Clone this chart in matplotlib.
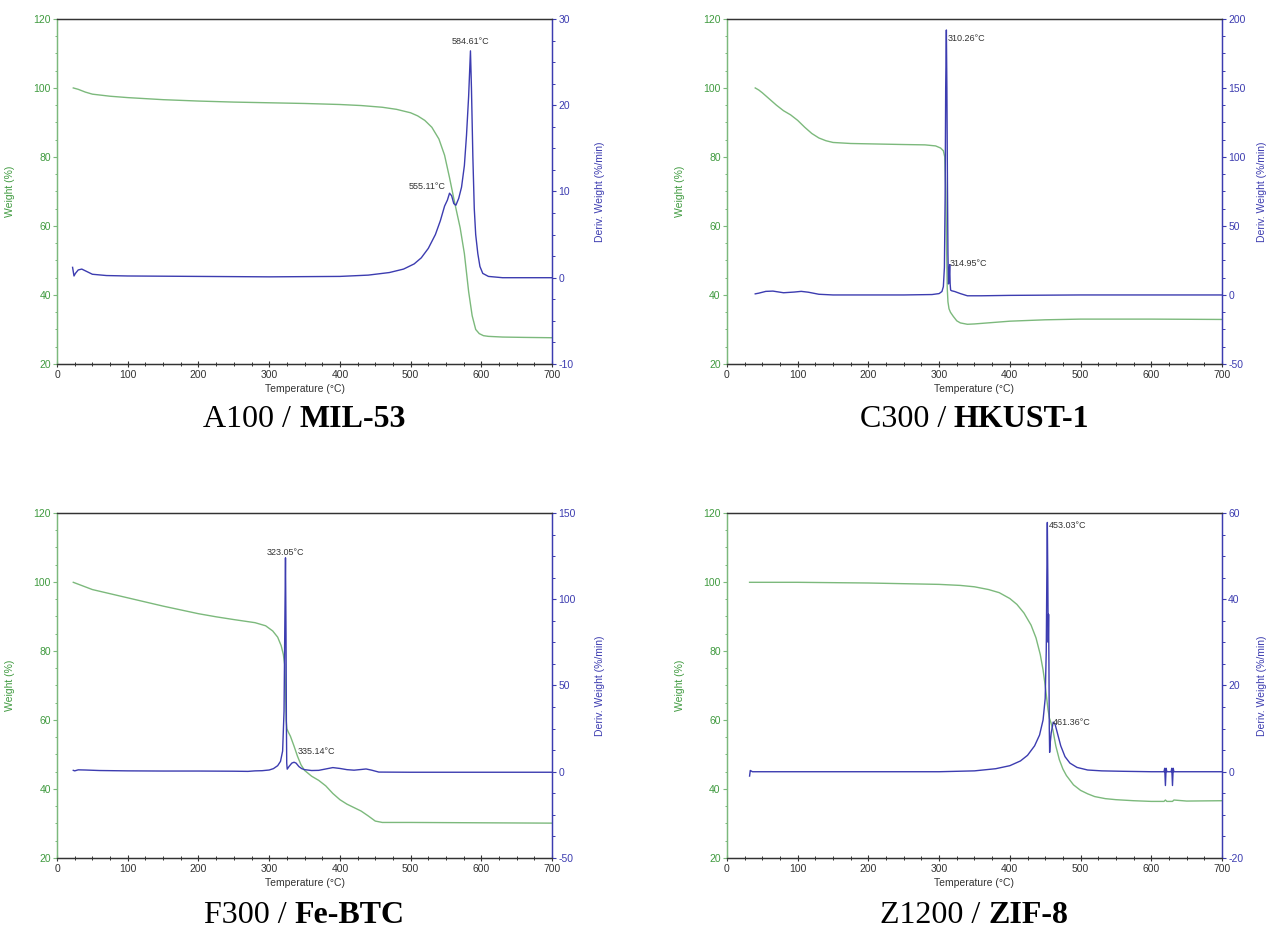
#!/usr/bin/env python3
"""Four TGA / DTG panels (weight % and derivative weight vs temperature)."""

import matplotlib
matplotlib.use("Agg")
import matplotlib.pyplot as plt
from matplotlib.ticker import MultipleLocator

GREEN_LINE = "#7cb97c"
GREEN_TXT = "#3f9a3f"
BLUE = "#3c3cb0"
DARK = "#333333"

# ---- A100 / MIL-53 ----
a_wt_t = [23, 30, 40, 50, 75, 100, 150, 200, 250, 300, 350, 400, 430, 460, 480, 500, 510, 520, 530, 540,
          548, 555, 562, 570, 576, 582, 587, 592, 597, 603, 610, 630, 660, 700]
a_wt_v = [100, 99.6, 98.8, 98.2, 97.6, 97.2, 96.6, 96.2, 95.9, 95.7, 95.5, 95.2, 94.9, 94.4, 93.8, 92.8,
          91.9, 90.6, 88.6, 85.2, 80.5, 74, 67, 59.5, 52, 41, 34, 30, 28.8, 28.2, 28, 27.8, 27.7, 27.6]
a_dw_t = [22, 24, 26, 30, 35, 40, 50, 70, 100, 200, 300, 400, 440, 470, 490, 505, 515, 525, 535, 542, 548,
          552, 555, 558, 561, 564, 568, 572, 576, 579, 582, 584.6, 586, 588, 590, 592, 595, 598, 602, 610,
          630, 700]
a_dw_v = [1.2, 0.2, 0.5, 0.9, 1.0, 0.8, 0.4, 0.25, 0.2, 0.15, 0.1, 0.15, 0.3, 0.6, 1.0, 1.6, 2.3, 3.4, 5.0,
          6.6, 8.3, 9.0, 9.8, 9.5, 8.6, 8.4, 9.2, 10.5, 13.0, 16.5, 21.0, 26.3, 22.0, 14.0, 8.0, 5.0, 2.8,
          1.3, 0.5, 0.15, 0.0, 0.0]

# ---- C300 / HKUST-1 ----
c_wt_t = [40, 45, 50, 60, 70, 80, 90, 100, 110, 120, 130, 140, 150, 175, 200, 250, 280, 295, 302, 306, 308,
          309.5, 310.5, 311.5, 312.5, 314, 316, 320, 325, 330, 340, 350, 375, 400, 450, 500, 600, 700]
c_wt_v = [100, 99.4, 98.6, 96.8, 95, 93.4, 92.2, 90.6, 88.6, 86.8, 85.5, 84.7, 84.2, 83.9, 83.8, 83.6, 83.5,
          83.2, 82.6, 81.8, 80, 70, 55, 42, 38, 36, 35, 33.8, 32.5, 31.9, 31.5, 31.6, 32, 32.4, 32.8, 33.0,
          33.0, 32.9]
c_dw_t = [40, 45, 55, 65, 80, 95, 105, 115, 130, 150, 200, 250, 290, 300, 304, 306, 307.5, 308.5, 309.3,
          310.26, 311, 311.8, 312.5, 313.2, 314, 314.95, 315.6, 316.3, 318, 322, 330, 340, 360, 400, 500,
          600, 700]
c_dw_v = [0.8, 1.3, 2.6, 2.8, 1.6, 2.1, 2.6, 2.0, 0.5, 0.0, 0.0, 0.0, 0.3, 1.0, 2.5, 6, 20, 70, 150, 192,
          150, 80, 30, 8, 10, 22, 8, 3.5, 3.0, 2.5, 1.0, -0.6, -0.6, -0.3, 0.0, 0.0, 0.0]

# ---- F300 / Fe-BTC ----
f_wt_t = [23, 50, 100, 150, 175, 200, 225, 250, 280, 295, 305, 312, 317, 320, 322, 323, 324, 325, 327, 330,
          335, 340, 345, 350, 360, 370, 380, 390, 400, 410, 420, 430, 440, 450, 460, 500, 600, 700]
f_wt_v = [99.9, 97.8, 95.4, 93.0, 91.9, 90.8, 89.9, 89.1, 88.2, 87.3, 85.8, 84, 81.5, 79, 76, 70, 60, 57.5,
          56.5, 55.3, 52.5, 49.5, 47, 45.4, 43.7, 42.5, 40.9, 38.7, 36.9, 35.6, 34.6, 33.6, 32.2, 30.7,
          30.3, 30.3, 30.2, 30.1]
f_dw_t = [23, 25, 30, 40, 60, 100, 150, 200, 250, 270, 280, 290, 300, 306, 312, 316, 319, 321, 322, 323.05,
          323.8, 324.3, 324.8, 325.5, 328, 332, 335.14, 338, 342, 346, 350, 360, 370, 380, 390, 400, 410,
          420, 430, 437, 445, 455, 500, 600, 700]
f_dw_v = [0.8, 0.5, 1.1, 1.0, 0.7, 0.5, 0.4, 0.4, 0.3, 0.2, 0.5, 0.6, 1.0, 1.8, 3.5, 6, 12, 35, 80, 124,
          80, 30, 5, 1.5, 3.0, 5.0, 5.5, 5.0, 3.0, 1.8, 1.2, 0.7, 0.8, 1.6, 2.4, 1.9, 1.2, 0.9, 1.3, 1.6,
          0.9, -0.2, -0.3, -0.3, -0.3]

# ---- Z1200 / ZIF-8 ----
z_wt_t = [32, 50, 100, 150, 200, 250, 300, 330, 350, 370, 385, 400, 410, 420, 430, 437, 443, 447, 450, 452,
          454, 456, 458, 461, 465, 470, 475, 480, 490, 500, 510, 520, 535, 550, 575, 600, 618, 620, 622,
          630, 632, 650, 700]
z_wt_v = [99.9, 99.9, 99.9, 99.8, 99.7, 99.5, 99.3, 99.0, 98.6, 97.8, 96.9, 95.2, 93.5, 91, 87.5, 83.8,
          79, 74.5, 70, 66.5, 63, 60.5, 59.3, 57, 52.5, 48.5, 45.8, 43.9, 41.2, 39.6, 38.6, 37.8, 37.2,
          36.9, 36.6, 36.4, 36.4, 36.8, 36.4, 36.4, 36.8, 36.5, 36.6]
z_dw_t = [32, 33, 34, 36, 50, 100, 200, 300, 350, 380, 400, 415, 425, 435, 442, 447, 450, 451.5, 452.3,
          453.03, 453.7, 454.3, 454.8, 455.3, 455.8, 456.3, 457, 458.5, 461.36, 464, 468, 472, 478, 485,
          495, 510, 530, 560, 600, 618, 619, 620, 621, 622, 628, 629, 630, 631, 632, 650, 700]
z_dw_v = [-1.0, 0.3, 0.2, 0.0, 0.0, 0.0, 0.0, 0.0, 0.2, 0.7, 1.4, 2.5, 3.8, 6.0, 8.5, 12, 17, 28, 45,
          57.8, 45, 30, 36.5, 25, 10, 4.5, 6.5, 9, 11.5, 11, 8.5, 6.0, 3.5, 2.0, 1.0, 0.4, 0.2, 0.1, 0.0,
          0.0, 0.8, -3.2, 0.8, 0.0, 0.0, 0.8, -3.2, 0.8, 0.0, 0.0, 0.0]

PANELS = [
    dict(name="A100 / ", bold="MIL-53", wt=(a_wt_t, a_wt_v), dw=(a_dw_t, a_dw_v),
         rlim=(-10, 30), rstep=10,
         notes=[(584.61, 27.4, "584.61°C", "center"), (549, 10.6, "555.11°C", "right")]),
    dict(name="C300 / ", bold="HKUST-1", wt=(c_wt_t, c_wt_v), dw=(c_dw_t, c_dw_v),
         rlim=(-50, 200), rstep=50,
         notes=[(312.5, 186, "310.26°C", "left"), (314.5, 23, "314.95°C", "left")]),
    dict(name="F300 / ", bold="Fe-BTC", wt=(f_wt_t, f_wt_v), dw=(f_dw_t, f_dw_v),
         rlim=(-50, 150), rstep=50,
         notes=[(323.05, 127, "323.05°C", "center"), (340, 11.5, "335.14°C", "left")]),
    dict(name="Z1200 / ", bold="ZIF-8", wt=(z_wt_t, z_wt_v), dw=(z_dw_t, z_dw_v),
         rlim=(-20, 60), rstep=20,
         notes=[(455, 57.0, "453.03°C", "left"), (460.5, 11.3, "461.36°C", "left")]),
]

# axes boxes in figure fractions, title baselines, right-label offsets
BOXES = [(0.0449, 0.6099), (0.5724, 0.6099), (0.0449, 0.0804), (0.5724, 0.0804)]
W, H = 0.3898, 0.3698
TITLE_Y = [0.5424, 0.5424, 0.0110, 0.0110]
RLABEL_X = [1.087, 1.070, 1.087, 1.070]

plt.rcParams["font.family"] = ["Liberation Sans", "DejaVu Sans"]
plt.rcParams["axes.unicode_minus"] = False
fig = plt.figure(figsize=(12.7, 9.33), dpi=100)


def draw_panel(ax, p, rlabel_x):
    ax2 = ax.twinx()
    ax.plot(*p["wt"], color=GREEN_LINE, lw=1.0)
    ax2.plot(*p["dw"], color=BLUE, lw=1.0)

    ax.set_xlim(0, 700)
    ax.set_ylim(20, 120)
    ax2.set_ylim(*p["rlim"])
    ax.xaxis.set_major_locator(MultipleLocator(100))
    ax.xaxis.set_minor_locator(MultipleLocator(25))
    ax.yaxis.set_major_locator(MultipleLocator(20))
    ax.yaxis.set_minor_locator(MultipleLocator(5))
    ax2.yaxis.set_major_locator(MultipleLocator(p["rstep"]))
    ax2.yaxis.set_minor_locator(MultipleLocator(p["rstep"] / 4))

    for a in (ax, ax2):
        a.spines["top"].set_color(DARK)
        a.spines["bottom"].set_color(DARK)
        a.spines["left"].set_color(GREEN_LINE)
        a.spines["right"].set_color(BLUE)
        for s in a.spines.values():
            s.set_linewidth(0.9)

    ax.tick_params(axis="x", which="major", direction="inout", length=4, width=0.8, colors=DARK,
                   labelsize=7.5, pad=2)
    ax.tick_params(axis="x", which="minor", direction="inout", length=2.5, width=0.7, colors=DARK)
    ax.tick_params(axis="y", which="major", length=3, width=0.8, colors=GREEN_LINE,
                   labelcolor=GREEN_TXT, labelsize=7.5, pad=1.5)
    ax.tick_params(axis="y", which="minor", length=1.8, width=0.7, colors=GREEN_LINE)
    ax2.tick_params(axis="y", which="major", length=3, width=0.8, colors=BLUE,
                    labelcolor=BLUE, labelsize=7.5, pad=1.5)
    ax2.tick_params(axis="y", which="minor", length=1.8, width=0.7, colors=BLUE)

    ax.set_xlabel("Temperature (°C)", fontsize=7.5, color=DARK)
    ax.xaxis.set_label_coords(0.5, -0.058)
    ax.set_ylabel("Weight (%)", fontsize=7.5, color=GREEN_TXT)
    ax.yaxis.set_label_coords(-0.085, 0.5)
    ax2.set_ylabel("Deriv. Weight (%/min)", fontsize=7.5, color=BLUE)
    ax2.yaxis.set_label_coords(rlabel_x, 0.5)

    for x, y, txt, ha in p["notes"]:
        ax2.text(x, y, txt, ha=ha, va="center", fontsize=6.5, color=DARK)


def draw_title(cx, y, regular, bold):
    r = fig.canvas.get_renderer()
    t1 = fig.text(cx, y, regular, ha="left", va="baseline", fontsize=23, family="Liberation Serif")
    t2 = fig.text(cx, y, bold, ha="left", va="baseline", fontsize=23, family="Liberation Serif",
                  weight="bold")
    w1 = t1.get_window_extent(r).width / fig.bbox.width
    w2 = t2.get_window_extent(r).width / fig.bbox.width
    x0 = cx - (w1 + w2) / 2
    t1.set_x(x0)
    t2.set_x(x0 + w1)


for (left, bottom), ty, rx, p in zip(BOXES, TITLE_Y, RLABEL_X, PANELS):
    ax = fig.add_axes([left, bottom, W, H])
    draw_panel(ax, p, rx)
    draw_title(left + W / 2, ty, p["name"], p["bold"])

fig.savefig("out.png", dpi=100)
